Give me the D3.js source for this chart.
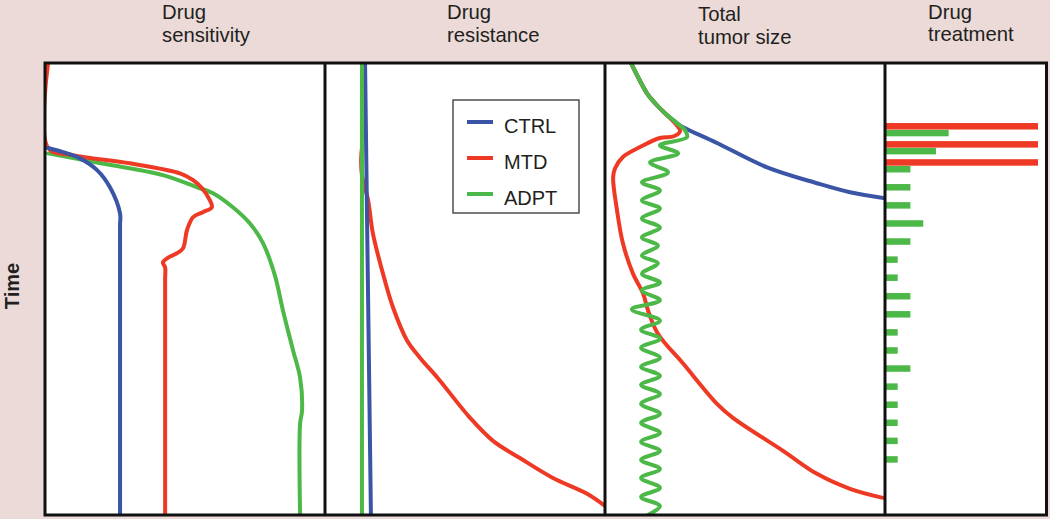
<!DOCTYPE html>
<html>
<head>
<meta charset="utf-8">
<script src="https://cdn.jsdelivr.net/npm/d3@7"></script>
<style>
  html, body { margin: 0; padding: 0; background: #ebdad8; }
  svg { display: block; }
  text { font-family: "Liberation Sans", Arial, Helvetica, sans-serif; fill: #231f20; }
</style>
</head>
<body>
<svg id="chart" width="1050" height="519"></svg>
<script>
// ---------------- DATA ----------------
const seriesNames = ["CTRL", "MTD", "ADPT"];
const panelTitles = [["Drug", "sensitivity"], ["Drug", "resistance"], ["Total", "tumor size"], ["Drug", "treatment"]];
const axisLabel = "Time";

// Each point: [time (0-100), value (0-100 of panel width)]
const sensitivityCTRL = [[18.8,1.1],[19.7,6.4],[21.1,12.5],[23.7,18.6],[27.5,23.2],[33.3,26.8],[36,26.8],[100,26.8]];
const sensitivityMTD = [[0,1.1],[18.8,1.1],[20.4,10],[22.2,30.4],[24.4,48.2],[25.9,52.9],[27.7,56.1],[30.4,58.9],[31.9,59.6],[33.0,56.4],[34.1,52.9],[37.0,50.7],[41.0,49.3],[42.1,47.1],[43.2,43.6],[44.1,42.1],[45.2,42.9],[48,42.9],[100,42.9]];
const sensitivityADPT = [[20.0,1.1],[22.0,18.6],[24.8,42.1],[27.5,54.3],[28.8,60],[31.9,67.1],[35.5,73.2],[39.9,77.9],[47.0,82.1],[54.8,85],[63.6,88.6],[69.6,91.1],[76.9,91.8],[79.8,91.1],[100,91.1]];

const resistanceCTRL = [[0,14.3],[100,16.4]];
const resistanceMTD = [[18.8,13.2],[21.5,12.9],[24.8,13.2],[30.4,15.4],[37.7,17.1],[46.6,20.7],[54.1,24.3],[61.4,29.3],[65.2,33.9],[69.8,40.4],[78.5,51.8],[83.6,60],[87.4,69.6],[91.8,81.4],[95.3,93.6],[98.0,100]];
const resistanceADPT = [[0,13.2],[100,13.2]];

const tumorCTRL = [[0,9.3],[0.9,10],[6.7,15],[8.9,17.9],[11.1,21.4],[13.3,25.7],[14.2,27.9],[17.7,40],[23.1,57.9],[26.6,75.7],[28.6,87.5],[29.9,100]];
const tumorMTD = [[0,9.3],[0.9,10],[6.7,15],[8.9,17.9],[11.1,21.4],[13.3,25],[15.1,26.8],[16.2,24.6],[16.6,19.6],[18.6,12.5],[20.8,6.4],[23.3,3.6],[25.3,2.9],[32.6,4.3],[39.9,6.4],[46.6,10],[51.0,13.6],[54.8,15.4],[59.9,18.9],[66.5,27.9],[75.4,40],[78.5,45.7],[85.8,63.6],[90.9,75.7],[94.2,87.5],[96.2,99.3]];
const tumorADPT = [[0,9.3],[0.9,10],[6.7,15],[8.9,17.9],[11.1,21.4],[13.3,25.7],[14.9,28.6],[16.4,29.3],[18.2,19.6],[20.0,26.1],[22.0,16.1],[24.2,22.5],[26.4,13.2],[28.2,19.6],[30.4,13.2],[32.2,19.6],[34.4,13.2],[36.4,19.6],[38.6,13.2],[40.4,18.9],[42.6,13.2],[44.3,18.9],[46.6,13.2],[48.6,19.6],[50.3,13.2],[52.5,19.6],[54.5,9.6],[57.0,19.6],[59.0,12.9],[61.0,19.6],[63.0,12.9],[65.2,19.6],[67.2,12.9],[69.2,19.6],[71.2,12.9],[73.2,19.6],[75.4,12.9],[77.6,19.6],[79.6,12.9],[81.8,19.6],[83.8,12.9],[85.8,19.6],[87.8,12.9],[89.8,19.6],[91.8,12.9],[94.0,19.6],[96.0,12.9],[98.0,19.6],[100,15.4]];

// Drug treatment doses: [time, dose (0-100 = MTD)]
const treatmentMTD = [[14.0,100],[18.0,100],[22.0,100]];
const treatmentADPT = [[15.5,41.6],[19.5,33.3],[23.5,16.6],[27.5,16.6],[31.5,16.6],[35.5,25],[39.5,16.6],[43.5,8.3],[47.5,8.3],[51.6,16.6],[55.6,16.6],[59.6,8.3],[63.6,8.3],[67.6,16.6],[71.6,8.3],[75.6,8.3],[79.6,8.3],[83.6,8.3],[87.7,8.3]];

// ---------------- LAYOUT / STYLE ----------------
const colors = { CTRL: "#3a55a6", MTD: "#ee3a24", ADPT: "#4cb848" };
const edges = [45, 325, 605, 885, 1046.5];
const plotTop = 63, plotBottom = 515;
const svg = d3.select("#chart");

const y = d3.scaleLinear().domain([0, 100]).range([plotTop, plotBottom]);
const panelX = i => d3.scaleLinear().domain([0, 100]).range([edges[i], edges[i + 1]]);

svg.append("rect").attr("x", edges[0]).attr("y", plotTop)
  .attr("width", edges[4] - edges[0]).attr("height", plotBottom - plotTop).attr("fill", "#ffffff");

const defs = svg.append("defs");
for (let i = 0; i < 4; i++) {
  defs.append("clipPath").attr("id", "clip" + i).append("rect")
    .attr("x", edges[i]).attr("y", plotTop).attr("width", edges[i + 1] - edges[i]).attr("height", plotBottom - plotTop);
}

const panels = [
  [["ADPT", sensitivityADPT], ["MTD", sensitivityMTD], ["CTRL", sensitivityCTRL]],
  [["MTD", resistanceMTD], ["CTRL", resistanceCTRL], ["ADPT", resistanceADPT]],
  [["CTRL", tumorCTRL], ["MTD", tumorMTD], ["ADPT", tumorADPT]]
];

panels.forEach((list, i) => {
  const x = panelX(i);
  const line = d3.line().x(d => x(d[1])).y(d => y(d[0])).curve(d3.curveCatmullRom.alpha(0.5));
  const g = svg.append("g").attr("clip-path", `url(#clip${i})`);
  list.forEach(([name, data]) => {
    g.append("path").attr("d", line(data)).attr("fill", "none")
      .attr("stroke", colors[name]).attr("stroke-width", 4)
      .attr("stroke-linejoin", "round").attr("stroke-linecap", "round");
  });
});

// drug treatment bars
const xDose = d3.scaleLinear().domain([0, 100]).range([edges[3], 1038]);
const barH = 6.5;
const g4 = svg.append("g").attr("clip-path", "url(#clip3)");
g4.selectAll("rect.adpt").data(treatmentADPT).join("rect").attr("class", "adpt")
  .attr("x", xDose(0)).attr("y", d => y(d[0]) - barH / 2)
  .attr("width", d => xDose(d[1]) - xDose(0)).attr("height", barH).attr("fill", colors.ADPT);
g4.selectAll("rect.mtd").data(treatmentMTD).join("rect").attr("class", "mtd")
  .attr("x", xDose(0)).attr("y", d => y(d[0]) - barH / 2)
  .attr("width", d => xDose(d[1]) - xDose(0)).attr("height", barH).attr("fill", colors.MTD);

// frame + dividers
svg.append("rect").attr("x", edges[0]).attr("y", plotTop)
  .attr("width", edges[4] - edges[0]).attr("height", plotBottom - plotTop)
  .attr("fill", "none").attr("stroke", "#111").attr("stroke-width", 3);
[1, 2, 3].forEach(i => {
  svg.append("line").attr("x1", edges[i]).attr("x2", edges[i]).attr("y1", plotTop).attr("y2", plotBottom)
    .attr("stroke", "#111").attr("stroke-width", 3);
});

// titles
const titlePos = [
  { x: 162, y1: 18.5, y2: 41.5 },
  { x: 447, y1: 18.5, y2: 41.5 },
  { x: 698, y1: 20.5, y2: 44 },
  { x: 928, y1: 18.5, y2: 40.5 }
];
panelTitles.forEach((t, i) => {
  const p = titlePos[i];
  const tx = svg.append("text").attr("font-size", 20.3);
  tx.append("tspan").attr("x", p.x).attr("y", p.y1).text(t[0]);
  tx.append("tspan").attr("x", p.x).attr("y", p.y2).text(t[1]);
});

// Time label
svg.append("text").attr("transform", "translate(18.5,286) rotate(-90)")
  .attr("text-anchor", "middle").attr("font-size", 20).attr("font-weight", "bold").text(axisLabel);

// legend
const lg = svg.append("g");
lg.append("rect").attr("x", 453).attr("y", 100).attr("width", 126).attr("height", 113)
  .attr("fill", "#fff").attr("stroke", "#333").attr("stroke-width", 1.3);
seriesNames.forEach((name, i) => {
  const ly = 122 + i * 36;
  lg.append("line").attr("x1", 467).attr("x2", 493).attr("y1", ly).attr("y2", ly)
    .attr("stroke", colors[name]).attr("stroke-width", 4);
  lg.append("text").attr("x", 504).attr("y", ly + 10.5).attr("font-size", 20).text(name);
});
</script>
</body>
</html>
